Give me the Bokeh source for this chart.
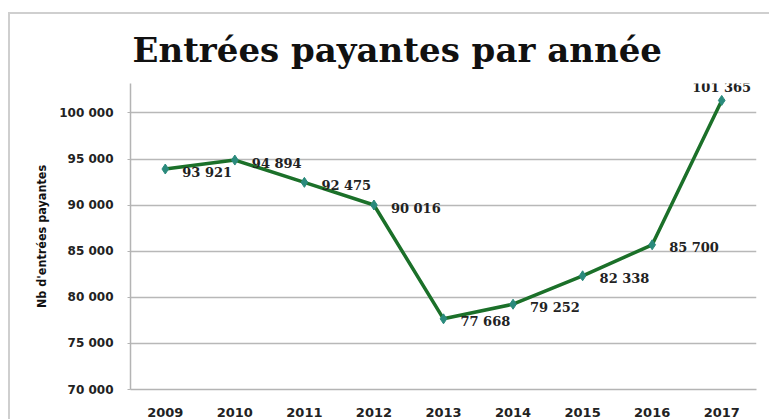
from bokeh.plotting import figure
from bokeh.models import Range1d, FactorRange, CustomJSTickFormatter, FixedTicker, Title
from bokeh.core.properties import value
from bokeh.embed import file_html
from bokeh.resources import INLINE

years = ["2009", "2010", "2011", "2012", "2013", "2014", "2015", "2016", "2017"]
entries = [93921, 94894, 92475, 90016, 77668, 79252, 82338, 85700, 101365]
labels = ["93 921", "94 894", "92 475", "90 016", "77 668", "79 252", "82 338", "85 700", "101 365"]
y_ticks = [70000, 75000, 80000, 85000, 90000, 95000, 100000]

p = figure(width=769, height=419, x_range=FactorRange(*years, range_padding=0),
           y_range=Range1d(70000, 103200), output_backend="svg", toolbar_location=None,
           min_border_left=130, min_border_right=13, min_border_top=83, min_border_bottom=28)
p.border_fill_color = None
p.background_fill_color = None
p.styles = {"background-color": "white",
            "box-shadow": "inset 8px 12px 0 0 #ffffff, inset 10px 14px 0 0 #cfcfcf"}
p.outline_line_color = None

t = Title(text="Entrées payantes par année", align="left", offset=2,
          text_font="DejaVu Serif", text_font_style="bold", text_font_size="34px",
          text_color="#111111", standoff=27)
p.add_layout(t, "above")

p.yaxis.ticker = FixedTicker(ticks=y_ticks)
p.yaxis.formatter = CustomJSTickFormatter(code="return tick.toString().replace(/\\B(?=(\\d{3})+(?!\\d))/g, ' ');")
p.yaxis.axis_label = "Nb d'entrées payantes"
p.yaxis.axis_label_text_font = "DejaVu Sans Condensed"
p.yaxis.axis_label_text_font_style = "bold"
p.yaxis.axis_label_text_font_size = "12.5px"
p.yaxis.axis_label_text_color = "#111111"
p.yaxis.axis_label_standoff = 7
p.yaxis.major_label_text_font = "DejaVu Sans"
p.yaxis.major_label_text_font_style = "bold"
p.yaxis.major_label_text_font_size = "12px"
p.yaxis.major_label_text_color = "#222222"
p.yaxis.major_tick_out = 3
p.yaxis.major_tick_in = 0
p.yaxis.major_tick_line_color = "#b4b4b4"
p.yaxis.minor_tick_line_color = None
p.yaxis.major_label_standoff = 14
p.yaxis.axis_line_color = "#b4b4b4"
p.yaxis.axis_line_width = 1.5

p.xaxis.major_label_text_font = "DejaVu Sans"
p.xaxis.major_label_text_font_style = "bold"
p.xaxis.major_label_text_font_size = "13px"
p.xaxis.major_label_text_color = "#222222"
p.xaxis.major_tick_line_color = None
p.xaxis.major_label_standoff = 12
p.xaxis.axis_line_color = "#b4b4b4"
p.xaxis.axis_line_width = 1.5

p.xgrid.grid_line_color = None
p.ygrid.ticker = FixedTicker(ticks=y_ticks)
p.ygrid.grid_line_color = "#b8b8b8"
p.ygrid.grid_line_width = 1.5

p.line(years, entries, line_color="#1b7029", line_width=3.5)
p.scatter(years, entries, marker="diamond", size=10, fill_color="#2a8a7c", line_color="#2a8a7c")

p.text(years[:-1], entries[:-1], text=labels[:-1], x_offset=17, y_offset=3,
       text_font=value("DejaVu Serif"), text_font_style="bold", text_font_size="13px",
       text_color="#222222", text_align="left", text_baseline="middle")
p.text(years[-1:], entries[-1:], text=labels[-1:], x_offset=0, y_offset=-13,
       text_font=value("DejaVu Serif"), text_font_style="bold", text_font_size="13px",
       text_color="#222222", text_align="center", text_baseline="middle")

open("out.html", "w").write(file_html(p, INLINE))
